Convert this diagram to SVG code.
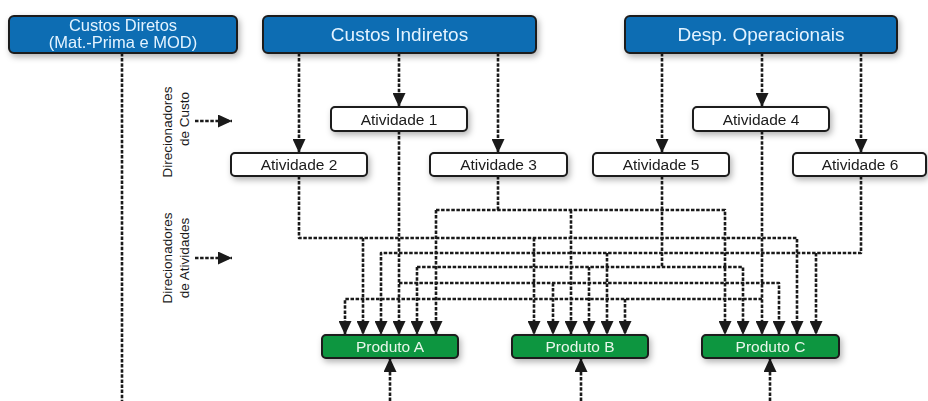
<svg xmlns="http://www.w3.org/2000/svg" width="928" height="401" viewBox="0 0 928 401">
<style>
.hdr{fill:#0a6db3;stroke:#1a1a1a;stroke-width:2}
.act{fill:#ffffff;stroke:#1a1a1a;stroke-width:2}
.prd{fill:#0e9640;stroke:#1a1a1a;stroke-width:2}
.ht{font-family:"Liberation Sans",Arial,sans-serif;font-size:19px;fill:#e4f3ff;text-anchor:middle}
.ht2{font-family:"Liberation Sans",Arial,sans-serif;font-size:16.5px;fill:#e4f3ff;text-anchor:middle}
.at{font-family:"Liberation Sans",Arial,sans-serif;font-size:15.5px;fill:#1a1a1a;text-anchor:middle}
.pt{font-family:"Liberation Sans",Arial,sans-serif;font-size:15.5px;fill:#e8f6ea;text-anchor:middle}
.lb{font-family:"Liberation Sans",Arial,sans-serif;font-size:13.5px;fill:#1a1a1a;text-anchor:middle}
.c{fill:none;stroke:#1a1a1a;stroke-width:2.6;stroke-dasharray:3.5 1.6;stroke-linejoin:round}
.a{marker-end:url(#ah)}
</style>
<defs>
<filter id="sh" x="-10%" y="-30%" width="125%" height="180%">
<feDropShadow dx="2" dy="3" stdDeviation="3" flood-color="#000" flood-opacity="0.3"/>
</filter>
<marker id="ah" markerUnits="userSpaceOnUse" markerWidth="15" markerHeight="13" refX="14" refY="6.5" orient="auto">
<path d="M0,0 L14,6.5 L0,13 z" fill="#1a1a1a"/>
</marker>
</defs>
<rect width="928" height="401" fill="#ffffff"/>

<g id="connectors">
<!-- Custos Diretos -->
<path class="c" d="M122 53 V401"/>
<path class="c a" d="M390 401 V358"/>
<path class="c a" d="M581 401 V358"/>
<path class="c a" d="M770 401 V358"/>
<!-- headers to activities -->
<path class="c a" d="M299 53 V153"/>
<path class="c a" d="M399 53 V107"/>
<path class="c a" d="M498 53 V153"/>
<path class="c a" d="M662 53 V153"/>
<path class="c a" d="M762 53 V107"/>
<path class="c a" d="M861 53 V153"/>
<!-- label arrows -->
<path class="c a" d="M195 121 H232"/>
<path class="c a" d="M195 258 H232"/>
<!-- Atividade 1 -->
<path class="c a" d="M399 131 V335"/>
<path class="c a" d="M399 283 H779 V335"/>
<path class="c a" d="M553 283 V335"/>
<!-- Atividade 2 -->
<path class="c a" d="M299 176 V238 H797 V335"/>
<path class="c a" d="M363 238 V335"/>
<path class="c a" d="M534 238 V335"/>
<!-- Atividade 3 -->
<path class="c" d="M498 176 V210"/>
<path class="c a" d="M436 210 H725 V335"/>
<path class="c a" d="M436 210 V335"/>
<path class="c a" d="M571 210 V335"/>
<!-- Atividade 4 -->
<path class="c a" d="M762 131 V335"/>
<path class="c a" d="M762 299 H345 V335"/>
<path class="c a" d="M625 299 V335"/>
<!-- Atividade 5 -->
<path class="c" d="M662 176 V267"/>
<path class="c a" d="M417 267 H743 V335"/>
<path class="c a" d="M417 267 V335"/>
<path class="c a" d="M589 267 V335"/>
<!-- Atividade 6 -->
<path class="c a" d="M861 176 V253 H381 V335"/>
<path class="c a" d="M607 253 V335"/>
<path class="c a" d="M816 253 V335"/>
</g>

<g id="label-custo">
<text class="lb" transform="translate(172,132) rotate(-90)">Direcionadores</text>
<text class="lb" transform="translate(189,119) rotate(-90)">de Custo</text>
</g>
<g id="label-atividades">
<text class="lb" transform="translate(172,258) rotate(-90)">Direcionadores</text>
<text class="lb" transform="translate(189,258) rotate(-90)">de Atividades</text>
</g>

<g id="custos-diretos" filter="url(#sh)">
<rect class="hdr" x="9" y="16" width="228" height="37" rx="5"/>
<text class="ht2" x="123" y="31">Custos Diretos</text>
<text class="ht2" x="123" y="48">(Mat.-Prima e MOD)</text>
</g>
<g id="custos-indiretos" filter="url(#sh)">
<rect class="hdr" x="263" y="16" width="273" height="37" rx="5"/>
<text class="ht" x="399.5" y="41">Custos Indiretos</text>
</g>
<g id="desp-operacionais" filter="url(#sh)">
<rect class="hdr" x="625" y="16" width="272" height="37" rx="5"/>
<text class="ht" x="761" y="41">Desp. Operacionais</text>
</g>

<g id="atividade-1" filter="url(#sh)">
<rect class="act" x="331" y="107" width="136" height="24" rx="4"/>
<text class="at" x="399" y="124.5">Atividade 1</text>
</g>
<g id="atividade-2" filter="url(#sh)">
<rect class="act" x="231" y="153" width="136" height="23" rx="4"/>
<text class="at" x="299" y="170">Atividade 2</text>
</g>
<g id="atividade-3" filter="url(#sh)">
<rect class="act" x="430" y="153" width="137" height="23" rx="4"/>
<text class="at" x="498.5" y="170">Atividade 3</text>
</g>
<g id="atividade-4" filter="url(#sh)">
<rect class="act" x="693" y="107" width="136" height="24" rx="4"/>
<text class="at" x="761" y="124.5">Atividade 4</text>
</g>
<g id="atividade-5" filter="url(#sh)">
<rect class="act" x="593" y="153" width="136" height="23" rx="4"/>
<text class="at" x="661" y="170">Atividade 5</text>
</g>
<g id="atividade-6" filter="url(#sh)">
<rect class="act" x="793" y="153" width="133" height="23" rx="4"/>
<text class="at" x="860" y="170">Atividade 6</text>
</g>

<g id="produto-a" filter="url(#sh)">
<rect class="prd" x="322" y="335" width="136" height="23" rx="4"/>
<text class="pt" x="390" y="352">Produto A</text>
</g>
<g id="produto-b" filter="url(#sh)">
<rect class="prd" x="512" y="335" width="136" height="23" rx="4"/>
<text class="pt" x="580" y="352">Produto B</text>
</g>
<g id="produto-c" filter="url(#sh)">
<rect class="prd" x="702" y="335" width="137" height="23" rx="4"/>
<text class="pt" x="770.5" y="352">Produto C</text>
</g>
</svg>
